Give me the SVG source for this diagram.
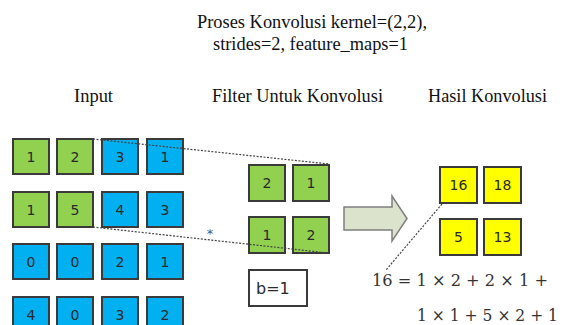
<svg xmlns="http://www.w3.org/2000/svg" width="564" height="325" viewBox="0 0 564 325">
<style>
.t{font-family:"Liberation Serif","Times New Roman",serif;font-size:18px;fill:#111;}
.c{stroke:#3a3a3a;stroke-width:2;}
.g{fill:#92d050;}
.b{fill:#00b0f0;}
.y{fill:#ffff00;}
.n{font-family:"DejaVu Sans",Verdana,sans-serif;font-size:14px;fill:#2a2a2a;text-anchor:middle;}
.eq{font-family:"DejaVu Serif","Liberation Serif",serif;font-size:16px;fill:#333;}
.dot{stroke:#444;stroke-width:1.2;stroke-dasharray:2 1.5;fill:none;}
</style>
<rect width="564" height="325" fill="#fff"/>
<g id="title">
<text class="t" x="197" y="28" textLength="230" lengthAdjust="spacingAndGlyphs">Proses Konvolusi kernel=(2,2),</text>
<text class="t" x="213" y="50" textLength="195" lengthAdjust="spacingAndGlyphs">strides=2, feature_maps=1</text>
</g>
<g id="labels">
<text class="t" x="74" y="102" textLength="39" lengthAdjust="spacingAndGlyphs">Input</text>
<text class="t" x="212" y="102" textLength="171" lengthAdjust="spacingAndGlyphs">Filter Untuk Konvolusi</text>
<text class="t" x="428" y="102" textLength="119" lengthAdjust="spacingAndGlyphs">Hasil Konvolusi</text>
</g>
<g id="input">
<rect class="c g" x="13" y="139" width="36" height="35"/><text class="n" x="31" y="161.5">1</text>
<rect class="c g" x="57" y="139" width="36" height="35"/><text class="n" x="75" y="161.5">2</text>
<rect class="c b" x="102" y="139" width="36" height="35"/><text class="n" x="120" y="161.5">3</text>
<rect class="c b" x="147" y="139" width="36" height="35"/><text class="n" x="165" y="161.5">1</text>
<rect class="c g" x="13" y="192" width="36" height="35"/><text class="n" x="31" y="214.5">1</text>
<rect class="c g" x="57" y="192" width="36" height="35"/><text class="n" x="75" y="214.5">5</text>
<rect class="c b" x="102" y="192" width="36" height="35"/><text class="n" x="120" y="214.5">4</text>
<rect class="c b" x="147" y="192" width="36" height="35"/><text class="n" x="165" y="214.5">3</text>
<rect class="c b" x="13" y="244" width="36" height="35"/><text class="n" x="31" y="266.5">0</text>
<rect class="c b" x="57" y="244" width="36" height="35"/><text class="n" x="75" y="266.5">0</text>
<rect class="c b" x="102" y="244" width="36" height="35"/><text class="n" x="120" y="266.5">2</text>
<rect class="c b" x="147" y="244" width="36" height="35"/><text class="n" x="165" y="266.5">1</text>
<rect class="c b" x="13" y="297" width="36" height="35"/><text class="n" x="31" y="319.5">4</text>
<rect class="c b" x="57" y="297" width="36" height="35"/><text class="n" x="75" y="319.5">0</text>
<rect class="c b" x="102" y="297" width="36" height="35"/><text class="n" x="120" y="319.5">3</text>
<rect class="c b" x="147" y="297" width="36" height="35"/><text class="n" x="165" y="319.5">2</text>
</g>
<g id="filter">
<rect class="c g" x="249" y="165" width="36" height="36"/><text class="n" x="267" y="188">2</text>
<rect class="c g" x="293" y="165" width="36" height="36"/><text class="n" x="311" y="188">1</text>
<rect class="c g" x="249" y="217" width="36" height="36"/><text class="n" x="267" y="240">1</text>
<rect class="c g" x="293" y="217" width="36" height="36"/><text class="n" x="311" y="240">2</text>
</g>
<g id="bias">
<rect x="249" y="270" width="58" height="36" fill="#fff" stroke="#3a3a3a" stroke-width="2"/>
<text x="256" y="293.5" style="font-family:'DejaVu Sans',Verdana,sans-serif;font-size:16px;fill:#2a2a2a">b=1</text>
</g>
<g id="op">
<text x="210" y="238" text-anchor="middle" style="font-family:'DejaVu Sans',sans-serif;font-size:13px;fill:#3a5a9a">*</text>
</g>
<g id="arrow">
<path d="M344,207 H392 V196 L407,218.5 L392,241 V230 H344 Z" fill="#dbe3cd" stroke="#7f7f7f" stroke-width="1.5"/>
</g>
<g id="output">
<rect class="c y" x="440" y="167" width="37" height="36"/><text class="n" x="458.5" y="190">16</text>
<rect class="c y" x="484" y="167" width="37" height="36"/><text class="n" x="502.5" y="190">18</text>
<rect class="c y" x="440" y="219" width="37" height="36"/><text class="n" x="458.5" y="242">5</text>
<rect class="c y" x="484" y="219" width="37" height="36"/><text class="n" x="502.5" y="242">13</text>
</g>
<g id="connectors">
<line class="dot" x1="93" y1="139" x2="329" y2="164"/>
<line class="dot" x1="93" y1="227" x2="328" y2="253"/>
<line class="dot" x1="442" y1="204" x2="386" y2="270"/>
</g>
<g id="equation">
<text class="eq" x="372" y="286" textLength="176" lengthAdjust="spacingAndGlyphs">16 = 1 × 2 + 2 × 1 +</text>
<text class="eq" x="417" y="321" textLength="141" lengthAdjust="spacingAndGlyphs">1 × 1 + 5 × 2 + 1</text>
</g>
</svg>
